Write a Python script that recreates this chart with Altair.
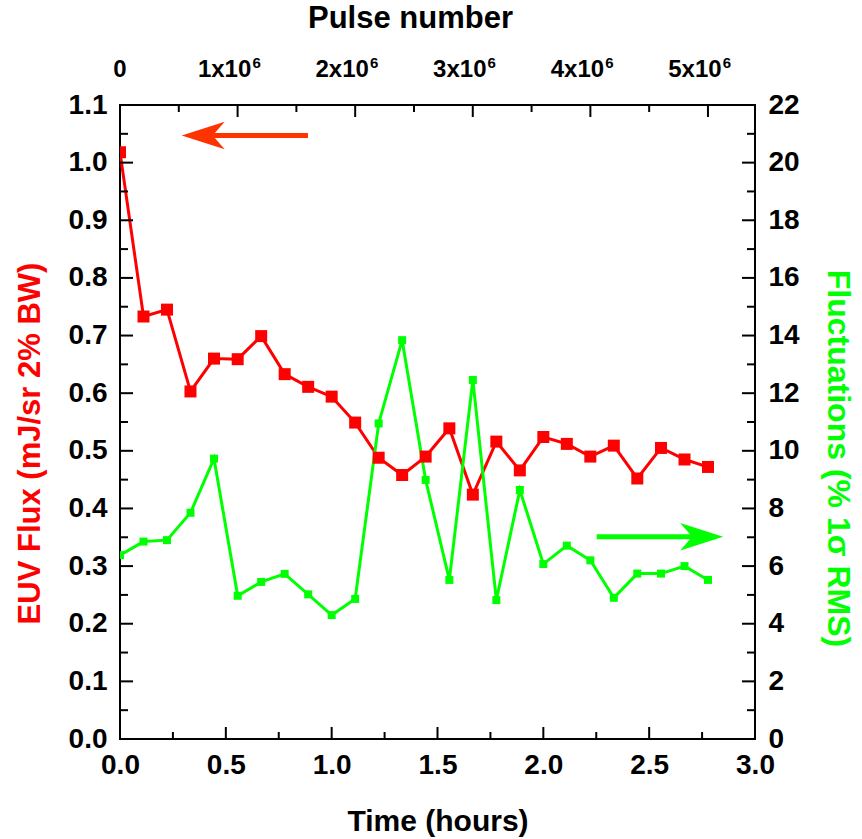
import altair as alt
import pandas as pd

# ---------------- data ----------------
time_h = [0.0, 0.111, 0.222, 0.333, 0.444, 0.556, 0.667, 0.778, 0.889, 1.0,
          1.111, 1.222, 1.333, 1.444, 1.556, 1.667, 1.778, 1.889, 2.0, 2.111,
          2.222, 2.333, 2.444, 2.556, 2.667, 2.778]
euv_flux = [1.018, 0.733, 0.745, 0.603, 0.660, 0.659, 0.699, 0.633, 0.611, 0.594,
            0.549, 0.488, 0.458, 0.490, 0.539, 0.424, 0.516, 0.466, 0.524, 0.512,
            0.490, 0.509, 0.452, 0.505, 0.485, 0.472]
fluctuations = [6.38, 6.85, 6.90, 7.85, 9.73, 4.97, 5.45, 5.73, 5.02, 4.30,
                4.86, 10.95, 13.84, 8.99, 5.52, 12.46, 4.82, 8.64, 6.07, 6.71,
                6.20, 4.90, 5.74, 5.74, 6.00, 5.52]

# axis tick values
time_major = [0.0, 0.5, 1.0, 1.5, 2.0, 2.5, 3.0]
time_minor = [0.25, 0.75, 1.25, 1.75, 2.25, 2.75]
flux_major = [0.0, 0.1, 0.2, 0.3, 0.4, 0.5, 0.6, 0.7, 0.8, 0.9, 1.0, 1.1]
flux_minor = [0.05, 0.15, 0.25, 0.35, 0.45, 0.55, 0.65, 0.75, 0.85, 0.95, 1.05]
fluct_major = [0, 2, 4, 6, 8, 10, 12, 14, 16, 18, 20, 22]
pulse_major = [0, 1e6, 2e6, 3e6, 4e6, 5e6]
pulse_minor = [0.5e6, 1.5e6, 2.5e6, 3.5e6, 4.5e6]
pulse_zero_label = ["0"]
pulse_labels = ["1x10", "2x10", "3x10", "4x10", "5x10"]
pulse_exponents = ["6", "6", "6", "6", "6"]

# annotation arrows (hours, axis units)
red_arrow_x = [0.393]
red_arrow_x2 = [0.888]
red_arrow_y = [1.047]
green_arrow_x = [2.748]
green_arrow_x2 = [2.252]
green_arrow_y = [7.02]

# ---------------- chart ----------------
FONT = "Liberation Sans"
W, H = 635, 634
RED = "#ff0000"
GREEN = "#00ff00"

df = pd.DataFrame({"t": time_h, "euv": euv_flux, "fl": fluctuations})

x_sc = alt.Scale(domain=[0, 3], nice=False, zero=False)
y_sc = alt.Scale(domain=[0, 1.1], nice=False, zero=False)
y2_sc = alt.Scale(domain=[0, 22], nice=False, zero=False)
p_sc = alt.Scale(domain=[0, 5.4e6], nice=False, zero=False)

LBL = dict(labelFont=FONT, labelFontWeight="bold", labelColor="black",
           titleFont=FONT, titleFontWeight="bold", domain=False, ticks=False,
           grid=False, labelOverlap=False, labelFlush=False)

x_axis = alt.Axis(orient="bottom", values=time_major, format=".1f",
                  title="Time (hours)", labelFontSize=28, labelPadding=12,
                  titleFontSize=30, titlePadding=27, titleColor="black", **LBL)
y_axis = alt.Axis(orient="left", values=flux_major, format=".1f",
                  title="EUV Flux (mJ/sr 2% BW)", labelFontSize=28,
                  labelPadding=13, titleFontSize=31, titlePadding=22,
                  titleColor=RED, titleY=338, **LBL)
y2_axis = alt.Axis(orient="right", values=fluct_major, format="d",
                   title="Fluctuations (% 1\u03c3 RMS)", labelFontSize=28,
                   labelPadding=13, titleFontSize=32, titlePadding=21,
                   titleColor=GREEN, titleY=353, **LBL)
p_axis = alt.Axis(orient="top", values=pulse_major, labels=False,
                  title="Pulse number", titleFontSize=31, titlePadding=71,
                  titleColor="black", titleX=290, **LBL)

base = alt.Chart(df)

green_line = base.mark_line(color=GREEN, strokeWidth=3, clip=True).encode(
    x=alt.X("t:Q", scale=x_sc, axis=None),
    y=alt.Y("fl:Q", scale=y2_sc, axis=y2_axis))
green_pts = base.mark_square(color=GREEN, size=64, opacity=1, clip=True).encode(
    x=alt.X("t:Q", scale=x_sc, axis=None),
    y=alt.Y("fl:Q", scale=y2_sc, axis=None))
red_line = base.mark_line(color=RED, strokeWidth=3, clip=True).encode(
    x=alt.X("t:Q", scale=x_sc, axis=x_axis),
    y=alt.Y("euv:Q", scale=y_sc, axis=y_axis))
red_pts = base.mark_square(color=RED, size=144, opacity=1, clip=True).encode(
    x=alt.X("t:Q", scale=x_sc, axis=None),
    y=alt.Y("euv:Q", scale=y_sc, axis=None))

# arrows
red_arr = pd.DataFrame({"x": red_arrow_x, "x2": red_arrow_x2, "y": red_arrow_y})
green_arr = pd.DataFrame({"x": green_arrow_x, "x2": green_arrow_x2, "y": green_arrow_y})
red_shaft = alt.Chart(red_arr).mark_rule(color="#ff3300", strokeWidth=5).encode(
    x=alt.X("x:Q", scale=x_sc, axis=None), x2="x2:Q",
    y=alt.Y("y:Q", scale=y_sc, axis=None))
red_head = alt.Chart(red_arr).mark_point(
    shape="M-1,0L1,-0.64L0.44,0L1,0.64Z", size=1849, filled=True,
    color="#ff3300", opacity=1).encode(
    x=alt.X("x:Q", scale=x_sc, axis=None),
    y=alt.Y("y:Q", scale=y_sc, axis=None))
green_shaft = alt.Chart(green_arr).mark_rule(color=GREEN, strokeWidth=5).encode(
    x=alt.X("x:Q", scale=x_sc, axis=None), x2="x2:Q",
    y=alt.Y("y:Q", scale=y2_sc, axis=None))
green_head = alt.Chart(green_arr).mark_point(
    shape="M1,0L-1,-0.64L-0.44,0L-1,0.64Z", size=1849, filled=True,
    color=GREEN, opacity=1).encode(
    x=alt.X("x:Q", scale=x_sc, axis=None),
    y=alt.Y("y:Q", scale=y2_sc, axis=None))

# inward ticks
def yticks(vals, scale, x0, x1):
    return alt.Chart(pd.DataFrame({"v": vals})).mark_rule(
        color="black", strokeWidth=2).encode(
        y=alt.Y("v:Q", scale=scale, axis=None),
        x=alt.value(x0), x2=alt.value(x1))

def xticks(vals, scale, y0, y1):
    return alt.Chart(pd.DataFrame({"v": vals})).mark_rule(
        color="black", strokeWidth=2).encode(
        x=alt.X("v:Q", scale=scale, axis=None),
        y=alt.value(y0), y2=alt.value(y1))

ticks = [
    yticks(flux_major, y_sc, 0, 13), yticks(flux_minor, y_sc, 0, 8),
    yticks(flux_major, y_sc, W, W - 13), yticks(flux_minor, y_sc, W, W - 8),
    xticks(time_major, x_sc, H, H - 12), xticks(time_minor, x_sc, H, H - 7),
    xticks(pulse_major, p_sc, 0, 12), xticks(pulse_minor, p_sc, 0, 7),
]

# top (pulse number) axis with its labels
pulse_layer = alt.Chart(pd.DataFrame({"p": pulse_major})).mark_point(
    opacity=0).encode(x=alt.X("p:Q", scale=p_sc, axis=p_axis))

zero_lbl = alt.Chart(pd.DataFrame({"p": pulse_major[:1], "s": pulse_zero_label})).mark_text(
    font=FONT, fontWeight="bold", fontSize=24, color="black",
    align="center", baseline="alphabetic").encode(
    x=alt.X("p:Q", scale=p_sc, axis=None), y=alt.value(-28), text="s:N")
mant_lbl = alt.Chart(pd.DataFrame({"p": pulse_major[1:], "s": pulse_labels})).mark_text(
    font=FONT, fontWeight="bold", fontSize=24, color="black",
    align="center", baseline="alphabetic", dx=-13).encode(
    x=alt.X("p:Q", scale=p_sc, axis=None), y=alt.value(-28), text="s:N")
exp_lbl = alt.Chart(pd.DataFrame({"p": pulse_major[1:], "s": pulse_exponents})).mark_text(
    font=FONT, fontWeight="bold", fontSize=15, color="black",
    align="center", baseline="alphabetic", dx=19).encode(
    x=alt.X("p:Q", scale=p_sc, axis=None), y=alt.value(-37), text="s:N")

chart = alt.layer(
    red_line, green_line, *ticks, green_pts, red_pts,
    red_shaft, red_head, green_shaft, green_head, pulse_layer,
    zero_lbl, mant_lbl, exp_lbl
).resolve_scale(x="independent", y="independent").properties(
    width=W, height=H, autosize="none",
    padding={"left": 120, "top": 105, "right": 107, "bottom": 100},
    background="white",
).configure_view(stroke="black", strokeWidth=2)

chart.save("out.html", embed_options={"renderer": "svg", "actions": False})
